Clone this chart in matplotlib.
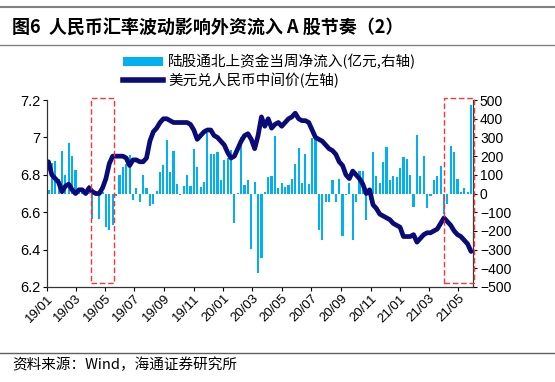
import numpy as np
import pandas as pd
import matplotlib
matplotlib.use('Agg')
import matplotlib.pyplot as plt
import matplotlib.dates as mdates
from matplotlib.patches import Rectangle
from matplotlib.lines import Line2D
from matplotlib.patches import Patch

plt.rcParams['font.family'] = ['Liberation Sans', 'Noto Sans CJK SC', 'DejaVu Sans']

# 周度数据，从2019-01-04开始
week_start = '2019-01-04'

# 陆股通北上资金当周净流入（亿元，右轴）
north_flow = [21, 164, 175, 80, 228, 100, 268, 200, 125, 20,
              15, 10, 45, -134, 10, -134, 10, -178, -193, -170,
              -14, 98, 143, 160, 205, -32, 27, -45, 98, 32,
              -64, -57, 14, 116, 152, 286, 116, 225, 50, -10,
              40, 98, 40, 236, 140, 36, 64, 325, 210, 210,
              220, 70, 179, 188, 233, -155, 2, 304, 46, 70,
              -297, 60, -423, -345, 9, 86, 93, 307, 27, 54,
              36, 45, 80, 157, 246, 54, 211, 50, 295, 295,
              -196, -246, -46, -46, 71, -46, 80, -225, -9, 57,
              -250, -46, 118, 118, -143, -36, 221, 93, 54, 170,
              250, 71, 93, 89, 139, 196, 187, 98, -71, 311,
              93, 202, -80, -14, 71, 93, 146, -107, -57, 255,
              220, 79, 9, 32, 9, 473]

# 美元兑人民币中间价（左轴）
usdcny = [6.87, 6.80, 6.78, 6.76, 6.71, 6.74, 6.75, 6.72, 6.70, 6.72,
          6.72, 6.70, 6.73, 6.71, 6.70, 6.70, 6.73, 6.78, 6.86, 6.90,
          6.90, 6.90, 6.90, 6.89, 6.85, 6.88, 6.88, 6.87, 6.87, 6.89,
          6.98, 7.03, 7.05, 7.08, 7.10, 7.10, 7.09, 7.08, 7.08, 7.08,
          7.08, 7.08, 7.07, 7.04, 6.99, 7.01, 7.03, 7.04, 7.04, 7.01,
          7.00, 6.98, 6.96, 6.92, 6.89, 6.90, 6.94, 6.98, 7.01, 7.02,
          6.99, 6.94, 7.01, 7.11, 7.06, 7.10, 7.05, 7.07, 7.08, 7.06,
          7.08, 7.10, 7.11, 7.13, 7.10, 7.09, 7.09, 7.08, 7.04, 7.00,
          6.99, 6.98, 6.96, 6.94, 6.93, 6.91, 6.87, 6.85, 6.80, 6.78,
          6.82, 6.80, 6.78, 6.75, 6.70, 6.72, 6.64, 6.62, 6.59, 6.58,
          6.57, 6.56, 6.54, 6.53, 6.52, 6.47, 6.47, 6.47, 6.48, 6.44,
          6.46, 6.48, 6.49, 6.49, 6.50, 6.51, 6.54, 6.57, 6.55, 6.53,
          6.50, 6.48, 6.47, 6.45, 6.43, 6.39]

dates = pd.date_range(week_start, periods=len(north_flow), freq='7D')

# 红色虚线框标注的区间
boxes = [('2019-04-02', '2019-05-20'), ('2021-04-02', '2021-06-03')]

left_ticks = [6.2, 6.4, 6.6, 6.8, 7.0, 7.2]
left_labels = ['6.2', '6.4', '6.6', '6.8', '7', '7.2']
right_ticks = [-500, -400, -300, -200, -100, 0, 100, 200, 300, 400, 500]

bar_color = '#00B0F0'
line_color = '#0A0A78'
cjk = ['Noto Sans CJK SC', 'DejaVu Sans']

fig = plt.figure(figsize=(5.55, 3.82), dpi=100)
ax = fig.add_axes([0.0847, 0.2487, 0.7675, 0.4893])
axb = ax.twinx()
ax.set_zorder(2)
axb.set_zorder(1)
ax.patch.set_visible(False)

# 柱状图（右轴）
axb.bar(dates, north_flow, width=4.5, color=bar_color, linewidth=0)
axb.set_ylim(-500, 500)
axb.set_yticks(right_ticks)
axb.tick_params(axis='y', labelsize=10, length=3, width=0.8, pad=2)

# 汇率折线（左轴）
ax.plot(dates, usdcny, color=line_color, lw=3.4, solid_capstyle='round')
ax.set_ylim(6.2, 7.2)
ax.set_yticks(left_ticks)
ax.set_yticklabels(left_labels)
ax.tick_params(axis='y', labelsize=10.5, length=3, width=0.8, pad=2)

ax.set_xlim(pd.Timestamp('2019-01-01'), pd.Timestamp('2021-06-01'))
ax.xaxis.set_major_locator(mdates.MonthLocator(bymonth=[1, 3, 5, 7, 9, 11]))
ax.xaxis.set_major_formatter(mdates.DateFormatter('%y/%m'))
ax.tick_params(axis='x', labelsize=9.5, length=3, width=0.8, pad=1)
for lab in ax.get_xticklabels():
    lab.set_rotation(45)
    lab.set_ha('right')
    lab.set_rotation_mode('anchor')

for a in (ax, axb):
    a.spines['top'].set_visible(False)
    for s in ('left', 'right', 'bottom'):
        a.spines[s].set_color('#333333')
        a.spines[s].set_linewidth(0.8)

# 虚线框
for b0, b1 in boxes:
    x0 = mdates.date2num(pd.Timestamp(b0))
    x1 = mdates.date2num(pd.Timestamp(b1))
    ax.add_patch(Rectangle((x0, 6.22), x1 - x0, 0.99, fill=False,
                           edgecolor='#FF3333', lw=1.0, ls=(0, (4, 2)),
                           clip_on=False, zorder=5))

# 图例
handles = [Patch(facecolor=bar_color, edgecolor='none'),
           Line2D([0], [0], color=line_color, lw=4)]
labels = ['陆股通北上资金当周净流入(亿元,右轴)', '美元兑人民币中间价(左轴)']
fig.legend(handles, labels, loc='upper left', bbox_to_anchor=(0.2216, 0.858),
           frameon=False, prop={'family': cjk, 'size': 10.5},
           handlelength=2.75, handleheight=0.5, handletextpad=0.35,
           labelspacing=0.2, borderpad=0, borderaxespad=0)

# 标题、分隔线与资料来源
fig.add_artist(Line2D([0, 1], [0.982, 0.982], color='#808080', lw=1.5))
fig.add_artist(Line2D([0, 1], [0.883, 0.883], color='#808080', lw=1.0))
fig.add_artist(Line2D([0, 1], [0.0767, 0.0767], color='#606060', lw=1.0))
fig.text(0.022, 0.930, '图6  人民币汇率波动影响外资流入 A 股节奏（2）',
         fontsize=13, fontweight='bold', family=cjk, va='center')
fig.text(0.022, 0.044, '资料来源：Wind，海通证券研究所',
         fontsize=10.5, family=cjk, va='center')

fig.savefig('out.png', dpi=100)
